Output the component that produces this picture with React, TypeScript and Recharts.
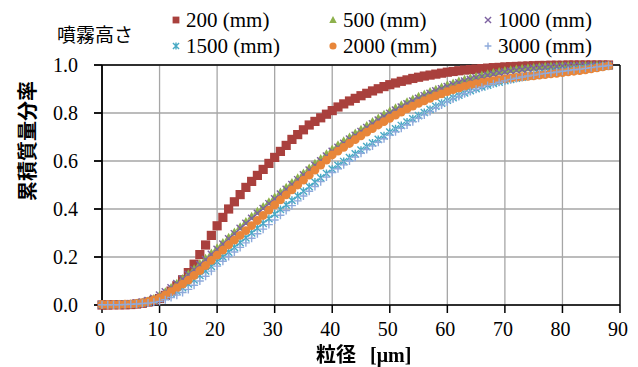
import { LineChart, Line, XAxis, YAxis, CartesianGrid, ReferenceLine } from 'recharts'

const sizes = [
  0, 1, 2, 3, 4, 5, 6, 7, 8, 9, 10, 11, 12, 13, 14, 15, 16, 17, 18, 19, 20, 21, 22, 23, 24, 25, 26, 27, 28, 29,
  30, 31, 32, 33, 34, 35, 36, 37, 38, 39, 40, 41, 42, 43, 44, 45, 46, 47, 48, 49, 50, 51, 52, 53, 54, 55, 56, 57, 58, 59,
  60, 61, 62, 63, 64, 65, 66, 67, 68, 69, 70, 71, 72, 73, 74, 75, 76, 77, 78, 79, 80, 81, 82, 83, 84, 85, 86, 87, 88,
]

const h200 = [
  0, 0, 0.001, 0.001, 0.001, 0.002, 0.004, 0.007, 0.012, 0.019, 0.027, 0.04, 0.058, 0.08, 0.105, 0.135, 0.17, 0.21, 0.25, 0.29,
  0.33, 0.365, 0.4, 0.43, 0.46, 0.49, 0.515, 0.54, 0.565, 0.59, 0.615, 0.64, 0.665, 0.69, 0.71, 0.73, 0.75, 0.765, 0.78, 0.795,
  0.81, 0.825, 0.838, 0.85, 0.861, 0.872, 0.882, 0.892, 0.901, 0.91, 0.918, 0.925, 0.932, 0.938, 0.944, 0.949, 0.954, 0.958, 0.962, 0.966,
  0.97, 0.973, 0.976, 0.979, 0.981, 0.983, 0.985, 0.987, 0.989, 0.99, 0.992, 0.993, 0.994, 0.995, 0.996, 0.997, 0.998, 0.998, 0.999, 0.999,
  0.999, 1, 1, 1, 1, 1, 1, 1, 1,
]
const h500 = [
  0.002, 0.002, 0.002, 0.003, 0.003, 0.005, 0.007, 0.011, 0.017, 0.027, 0.04, 0.055, 0.072, 0.09, 0.11, 0.13, 0.151, 0.172, 0.194, 0.216,
  0.238, 0.26, 0.282, 0.304, 0.326, 0.348, 0.369, 0.39, 0.41, 0.43, 0.45, 0.47, 0.49, 0.51, 0.53, 0.55, 0.57, 0.59, 0.61, 0.63,
  0.65, 0.667, 0.684, 0.7, 0.716, 0.732, 0.748, 0.764, 0.779, 0.794, 0.808, 0.821, 0.834, 0.846, 0.858, 0.869, 0.879, 0.889, 0.899, 0.908,
  0.917, 0.925, 0.933, 0.94, 0.946, 0.952, 0.958, 0.963, 0.968, 0.973, 0.977, 0.98, 0.983, 0.986, 0.988, 0.99, 0.992, 0.994, 0.995, 0.996,
  0.997, 0.998, 0.998, 0.999, 0.999, 0.999, 1, 1, 1,
]
const h1000 = [
  0.002, 0.002, 0.002, 0.003, 0.003, 0.005, 0.008, 0.012, 0.018, 0.028, 0.041, 0.055, 0.071, 0.089, 0.108, 0.127, 0.147, 0.168, 0.189, 0.211,
  0.232, 0.254, 0.276, 0.297, 0.319, 0.34, 0.361, 0.382, 0.402, 0.422, 0.442, 0.462, 0.482, 0.502, 0.522, 0.542, 0.562, 0.582, 0.601, 0.62,
  0.64, 0.657, 0.674, 0.691, 0.707, 0.723, 0.739, 0.755, 0.77, 0.785, 0.799, 0.812, 0.825, 0.838, 0.85, 0.861, 0.872, 0.882, 0.892, 0.901,
  0.91, 0.918, 0.926, 0.933, 0.94, 0.946, 0.952, 0.957, 0.962, 0.967, 0.971, 0.975, 0.978, 0.981, 0.984, 0.987, 0.989, 0.991, 0.993, 0.994,
  0.995, 0.996, 0.997, 0.998, 0.998, 0.999, 0.999, 1, 1,
]
const h1500 = [
  0.001, 0.001, 0.001, 0.002, 0.002, 0.003, 0.005, 0.008, 0.012, 0.018, 0.026, 0.036, 0.047, 0.058, 0.072, 0.088, 0.105, 0.123, 0.142, 0.161,
  0.181, 0.2, 0.22, 0.24, 0.26, 0.28, 0.3, 0.32, 0.34, 0.36, 0.379, 0.398, 0.417, 0.436, 0.455, 0.474, 0.493, 0.512, 0.53, 0.548,
  0.566, 0.582, 0.598, 0.614, 0.63, 0.645, 0.66, 0.675, 0.69, 0.705, 0.72, 0.734, 0.748, 0.762, 0.776, 0.789, 0.802, 0.815, 0.828, 0.841,
  0.853, 0.864, 0.874, 0.884, 0.893, 0.901, 0.909, 0.916, 0.923, 0.929, 0.935, 0.94, 0.945, 0.949, 0.953, 0.957, 0.961, 0.964, 0.967, 0.97,
  0.973, 0.976, 0.979, 0.982, 0.985, 0.988, 0.991, 0.994, 0.997,
]
const h2000 = [
  0.002, 0.002, 0.002, 0.002, 0.003, 0.004, 0.006, 0.009, 0.014, 0.021, 0.03, 0.042, 0.056, 0.071, 0.087, 0.104, 0.123, 0.143, 0.164, 0.186,
  0.208, 0.229, 0.25, 0.27, 0.29, 0.31, 0.331, 0.352, 0.373, 0.395, 0.417, 0.438, 0.459, 0.48, 0.5, 0.52, 0.541, 0.562, 0.583, 0.604,
  0.625, 0.641, 0.657, 0.673, 0.689, 0.705, 0.72, 0.735, 0.75, 0.764, 0.778, 0.791, 0.804, 0.817, 0.829, 0.84, 0.851, 0.861, 0.871, 0.88,
  0.889, 0.897, 0.904, 0.911, 0.917, 0.922, 0.927, 0.931, 0.935, 0.939, 0.942, 0.945, 0.948, 0.951, 0.953, 0.955, 0.958, 0.96, 0.963, 0.965,
  0.968, 0.971, 0.974, 0.977, 0.98, 0.984, 0.988, 0.992, 0.996,
]
const h3000 = [
  0.001, 0.001, 0.001, 0.001, 0.002, 0.003, 0.004, 0.006, 0.008, 0.011, 0.015, 0.022, 0.031, 0.041, 0.052, 0.065, 0.082, 0.1, 0.12, 0.141,
  0.162, 0.182, 0.202, 0.221, 0.24, 0.259, 0.278, 0.297, 0.316, 0.335, 0.354, 0.374, 0.394, 0.414, 0.434, 0.454, 0.474, 0.494, 0.514, 0.533,
  0.552, 0.568, 0.584, 0.6, 0.616, 0.632, 0.648, 0.663, 0.678, 0.693, 0.708, 0.722, 0.736, 0.75, 0.764, 0.778, 0.792, 0.806, 0.82, 0.833,
  0.846, 0.858, 0.869, 0.88, 0.89, 0.899, 0.907, 0.915, 0.922, 0.928, 0.934, 0.94, 0.945, 0.95, 0.954, 0.958, 0.962, 0.965, 0.968, 0.971,
  0.974, 0.977, 0.98, 0.983, 0.986, 0.989, 0.992, 0.995, 0.998,
]

const xTicks = [0, 10, 20, 30, 40, 50, 60, 70, 80, 90]
const yTicks = [0, 0.2, 0.4, 0.6, 0.8, 1.0]

const RED = '#a9403d'
const GREEN = '#8db14c'
const PURPLE = '#7d62a1'
const CYAN = '#47a9c4'
const ORANGE = '#e8863a'
const BLUE = '#8eaadb'

const data = sizes.map((x, i) => ({
  x,
  h200: h200[i],
  h500: h500[i],
  h1000: h1000[i],
  h1500: h1500[i],
  h2000: h2000[i],
  h3000: h3000[i],
}))

type Kind = 'square' | 'triangle' | 'x' | 'star' | 'circle' | 'plus'

// s = half size of the marker
function Marker({ kind, cx, cy, color, s }: { kind: Kind; cx: number; cy: number; color: string; s: number }) {
  switch (kind) {
    case 'square':
      return <rect x={cx - s} y={cy - s} width={2 * s} height={2 * s} fill={color} />
    case 'triangle':
      return <polygon points={`${cx},${cy - s * 1.15} ${cx + s * 1.1},${cy + s * 0.85} ${cx - s * 1.1},${cy + s * 0.85}`} fill={color} />
    case 'x': {
      const d = s * 0.9
      return (
        <path d={`M${cx - d},${cy - d}L${cx + d},${cy + d}M${cx - d},${cy + d}L${cx + d},${cy - d}`} stroke={color} strokeWidth={1.4} />
      )
    }
    case 'star': {
      const d = s * 0.9
      return (
        <path
          d={`M${cx - d},${cy - d}L${cx + d},${cy + d}M${cx - d},${cy + d}L${cx + d},${cy - d}M${cx},${cy - s}L${cx},${cy + s}`}
          stroke={color}
          strokeWidth={1.4}
        />
      )
    }
    case 'circle':
      return <circle cx={cx} cy={cy} r={s * 1.05} fill={color} />
    case 'plus':
      return <path d={`M${cx - s},${cy}L${cx + s},${cy}M${cx},${cy - s}L${cx},${cy + s}`} stroke={color} strokeWidth={1.4} />
  }
}

function dotOf(kind: Kind, color: string, s: number) {
  return (props: any) => {
    const { cx, cy, index } = props
    if (cx == null || cy == null) return <g key={`e${index}`} />
    return (
      <g key={`m${index}`}>
        <Marker kind={kind} cx={cx} cy={cy} color={color} s={s} />
      </g>
    )
  }
}

const series: { key: string; label: string; kind: Kind; color: string; s: number }[] = [
  { key: 'h200', label: '200 (mm)', kind: 'square', color: RED, s: 4.6 },
  { key: 'h500', label: '500 (mm)', kind: 'triangle', color: GREEN, s: 4 },
  { key: 'h1000', label: '1000 (mm)', kind: 'x', color: PURPLE, s: 4 },
  { key: 'h1500', label: '1500 (mm)', kind: 'star', color: CYAN, s: 4 },
  { key: 'h2000', label: '2000 (mm)', kind: 'circle', color: ORANGE, s: 4.2 },
  { key: 'h3000', label: '3000 (mm)', kind: 'plus', color: BLUE, s: 4 },
]

const serif = '"Liberation Serif", "Times New Roman", "DejaVu Serif", serif'
const jp = '"Noto Sans CJK JP", sans-serif'
const legendCols = [176, 333, 488]
const legendRows = [20, 46]

export default function App() {
  return (
    <div style={{ position: 'fixed', left: 0, top: 0, width: 638, height: 367, background: '#fff' }}>
      <LineChart width={638} height={367} data={data} margin={{ top: 65, right: 18, bottom: 22, left: 0 }}>
        <CartesianGrid stroke="#a6a6a6" strokeWidth={1.3} />
        <XAxis
          dataKey="x"
          type="number"
          domain={[0, 90]}
          ticks={xTicks}
          height={40}
          stroke="#000"
          strokeWidth={1.5}
          tickSize={8}
          tickMargin={9}
          tick={{ fontFamily: serif, fontSize: 20, fill: '#000', dx: -2 }}
        />
        <YAxis
          type="number"
          domain={[0, 1]}
          ticks={yTicks}
          width={102}
          stroke="#000"
          strokeWidth={1.8}
          tickSize={8}
          tickMargin={16}
          tickFormatter={(v: number) => v.toFixed(1)}
          tick={{ fontFamily: serif, fontSize: 20, fill: '#000' }}
        />
        <ReferenceLine y={1} stroke="#000" strokeWidth={1.3} />
        <ReferenceLine x={90} stroke="#000" strokeWidth={1.3} />
        {series.map((s) => (
          <Line
            key={s.key}
            dataKey={s.key}
            stroke="none"
            dot={dotOf(s.kind, s.color, s.s)}
            activeDot={false}
            isAnimationActive={false}
          />
        ))}
      </LineChart>

      {/* legend */}
      <div style={{ position: 'absolute', left: 57, top: 33, transform: 'translateY(-50%)', fontFamily: jp, fontSize: 19, lineHeight: 1 }}>
        噴霧高さ
      </div>
      {series.map((s, i) => {
        const cx = legendCols[i % 3]
        const cy = legendRows[Math.floor(i / 3)]
        return (
          <div key={s.key}>
            <svg style={{ position: 'absolute', left: cx - 6, top: cy - 6 }} width={12} height={12}>
              <Marker kind={s.kind} cx={6} cy={6} color={s.color} s={3.4} />
            </svg>
            <div
              style={{
                position: 'absolute',
                left: cx + 10,
                top: cy,
                transform: 'translateY(-50%)',
                fontFamily: serif,
                fontSize: 21,
                lineHeight: 1,
                whiteSpace: 'nowrap',
              }}
            >
              {s.label}
            </div>
          </div>
        )
      })}

      {/* axis titles */}
      <div
        style={{
          position: 'absolute',
          left: 27,
          top: 141,
          transform: 'translate(-50%, -50%) rotate(-90deg)',
          fontFamily: jp,
          fontWeight: 700,
          fontSize: 20,
          lineHeight: 1,
          whiteSpace: 'nowrap',
        }}
      >
        累積質量分率
      </div>
      <div
        style={{
          position: 'absolute',
          left: 316,
          top: 354,
          transform: 'translateY(-50%)',
          fontWeight: 700,
          fontSize: 20,
          lineHeight: 1,
          whiteSpace: 'nowrap',
        }}
      >
        <span style={{ fontFamily: jp }}>粒径</span>
        <span style={{ fontFamily: serif, marginLeft: 14 }}>[μm]</span>
      </div>
    </div>
  )
}
